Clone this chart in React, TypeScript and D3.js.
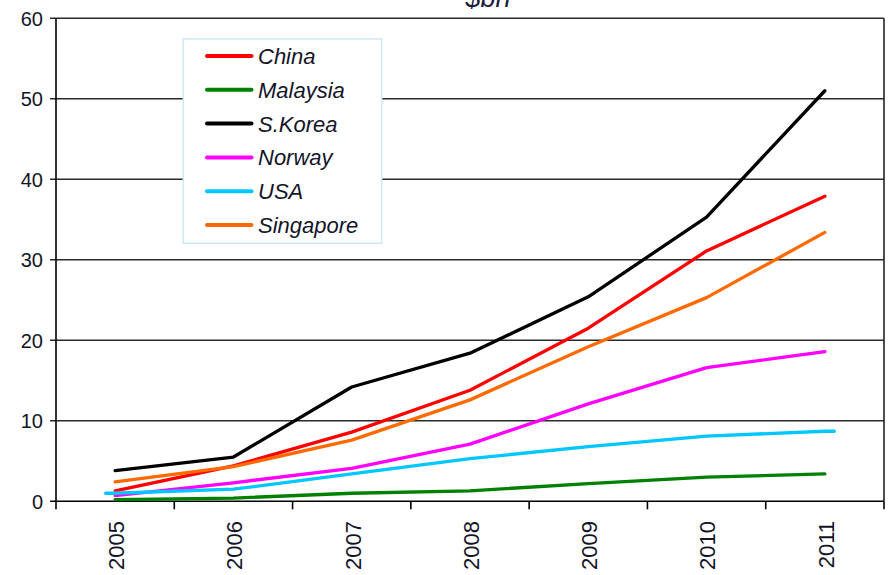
import React from "react";
import * as d3 from "d3";

const years = ["2005", "2006", "2007", "2008", "2009", "2010", "2011"];
const yTicks = [0, 10, 20, 30, 40, 50, 60];

const china = [1.3, 4.4, 8.6, 13.8, 21.5, 31.1, 37.9];
const malaysia = [0.2, 0.4, 1.0, 1.3, 2.2, 3.0, 3.4];
const sKorea = [3.8, 5.5, 14.2, 18.4, 25.4, 35.3, 51.0];
const norway = [0.7, 2.3, 4.1, 7.1, 12.1, 16.6, 18.6];
const usa = [1.0, 1.5, 3.4, 5.3, 6.8, 8.1, 8.7];
const singapore = [2.4, 4.3, 7.6, 12.6, 19.2, 25.3, 33.4];

const seriesNames = ["China", "Malaysia", "S.Korea", "Norway", "USA", "Singapore"];
const seriesValues = [china, malaysia, sKorea, norway, usa, singapore];
const seriesColors = ["#ff0000", "#008000", "#000000", "#ff00ff", "#00c8ff", "#ff6a00"];
// the USA trace runs a little past the first and last year
const seriesOverhang = [0, 0, 0, 0, 0.08, 0];

const W = 888;
const H = 575;
const left = 56;
const right = 884;
const top = 18.3;
const bottom = 501.3;

const font = "'Liberation Sans', Arial, sans-serif";

export default function App() {
  const x = d3.scaleBand<string>().domain(years).range([left, right]).padding(0);
  const bw = x.bandwidth();
  const xi = d3.scaleLinear().domain([0, years.length - 1]).range([
    (x(years[0]) as number) + bw / 2,
    (x(years[years.length - 1]) as number) + bw / 2,
  ]);
  const y = d3.scaleLinear().domain([0, 60]).range([bottom, top]);

  const line = d3
    .line<[number, number]>()
    .x((d) => xi(d[0]))
    .y((d) => y(d[1]));

  const buildPts = (vals: number[], over: number): [number, number][] => {
    const pts: [number, number][] = vals.map((v, i) => [i, v]);
    if (over > 0) {
      pts.unshift([-over, vals[0]]);
      pts.push([vals.length - 1 + over, vals[vals.length - 1]]);
    }
    return pts;
  };

  // legend geometry
  const lgX = 183.3;
  const lgY = 39;
  const lgW = 198.4;
  const lgH = 204.3;
  const lgRow0 = 56;
  const lgStep = 33.8;

  return (
    <svg
      width={W}
      height={H}
      style={{ position: "absolute", left: 0, top: 0, background: "#fff" }}
      fontFamily={font}
    >
      <rect width={W} height={H} fill="#fff" />

      {/* title, mostly cropped at the top */}
      <text x={488} y={7} textAnchor="middle" fontSize={27} fontStyle="italic" fill="#1a1a3a">
        $bn
      </text>

      {/* horizontal gridlines with left tick stubs */}
      {yTicks.map((t) => (
        <line
          key={"g" + t}
          x1={left - 6}
          x2={right}
          y1={y(t)}
          y2={y(t)}
          stroke={t === 0 ? "#000" : "#2a2a2a"}
          strokeWidth={1.6}
        />
      ))}

      {/* y tick labels */}
      {yTicks.map((t) => (
        <text
          key={"yl" + t}
          x={43}
          y={y(t)}
          dy="0.36em"
          textAnchor="end"
          fontSize={20}
          fill="#141428"
        >
          {t}
        </text>
      ))}

      {/* plot frame: left axis and right edge */}
      <line x1={left} x2={left} y1={top} y2={bottom} stroke="#000" strokeWidth={1.6} />
      <line x1={right} x2={right} y1={top} y2={bottom} stroke="#222" strokeWidth={1.6} />

      {/* x ticks at category boundaries */}
      {d3.range(years.length + 1).map((i) => {
        const xx = left + i * bw;
        return (
          <line key={"xt" + i} x1={xx} x2={xx} y1={bottom} y2={bottom + 8} stroke="#000" strokeWidth={1.6} />
        );
      })}

      {/* x labels, rotated */}
      {years.map((yr) => {
        const cx = (x(yr) as number) + bw / 2;
        const cy = 521;
        return (
          <text
            key={"xl" + yr}
            transform={`translate(${cx + 1},${cy}) rotate(-90)`}
            dy="0.36em"
            textAnchor="end"
            fontSize={22}
            fill="#141428"
          >
            {yr}
          </text>
        );
      })}

      {/* legend box */}
      <rect x={lgX} y={lgY} width={lgW} height={lgH} fill="#fff" stroke="#cfe8f3" strokeWidth={1.5} />

      {/* series */}
      {seriesValues.map((vals, k) => (
        <path
          key={"s" + k}
          d={line(buildPts(vals, seriesOverhang[k])) as string}
          fill="none"
          stroke={seriesColors[k]}
          strokeWidth={3.3}
          strokeLinejoin="round"
          strokeLinecap="round"
        />
      ))}

      {/* legend entries */}
      {seriesNames.map((name, k) => {
        const cy = lgRow0 + k * lgStep;
        return (
          <g key={"lg" + name}>
            <line
              x1={207}
              x2={251.5}
              y1={cy}
              y2={cy}
              stroke={seriesColors[k]}
              strokeWidth={4}
              strokeLinecap="round"
            />
            <text x={258} y={cy} dy="0.36em" fontSize={22} fontStyle="italic" fill="#141428">
              {name}
            </text>
          </g>
        );
      })}
    </svg>
  );
}
